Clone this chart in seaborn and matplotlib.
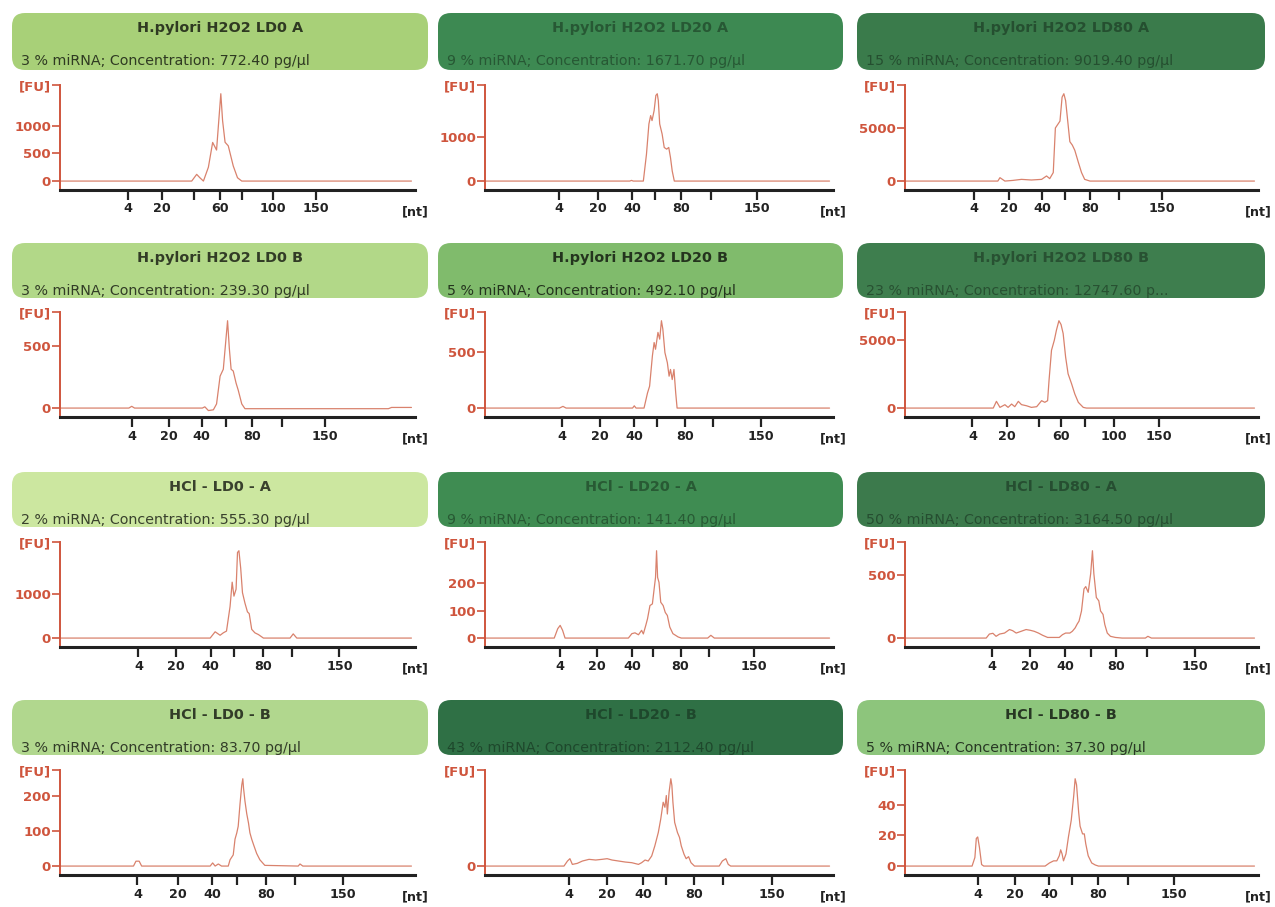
import matplotlib
matplotlib.use("Agg")
import numpy as np
import pandas as pd
import matplotlib.pyplot as plt
from matplotlib.patches import FancyBboxPatch
from matplotlib import colors as mcolors
import seaborn as sns

sns.set_theme(style="white")
plt.rcParams["font.family"] = ["DejaVu Sans"]

# ---- sample headers (row-major: H2O2 A, H2O2 B, HCl A, HCl B) ----
titles = [
    "H.pylori H2O2 LD0 A", "H.pylori H2O2 LD20 A", "H.pylori H2O2 LD80 A",
    "H.pylori H2O2 LD0 B", "H.pylori H2O2 LD20 B", "H.pylori H2O2 LD80 B",
    "HCl - LD0 - A", "HCl - LD20 - A", "HCl - LD80 - A",
    "HCl - LD0 - B", "HCl - LD20 - B", "HCl - LD80 - B",
]
subtitles = [
    "3 % miRNA; Concentration: 772.40 pg/µl",
    "9 % miRNA; Concentration: 1671.70 pg/µl",
    "15 % miRNA; Concentration: 9019.40 pg/µl",
    "3 % miRNA; Concentration: 239.30 pg/µl",
    "5 % miRNA; Concentration: 492.10 pg/µl",
    "23 % miRNA; Concentration: 12747.60 p...",
    "2 % miRNA; Concentration: 555.30 pg/µl",
    "9 % miRNA; Concentration: 141.40 pg/µl",
    "50 % miRNA; Concentration: 3164.50 pg/µl",
    "3 % miRNA; Concentration: 83.70 pg/µl",
    "43 % miRNA; Concentration: 2112.40 pg/µl",
    "5 % miRNA; Concentration: 37.30 pg/µl",
]
header_colors = [
    "#a8d078", "#3d8952", "#3a7b4b",
    "#b2d888", "#80bb6c", "#3e7e4e",
    "#cce7a0", "#3f8c52", "#3c7a4c",
    "#b1d78e", "#2f7045", "#8dc57c",
]

# ---- ladder ticks (relative migration position, 0-100) ----
ladder_pos = [
    [19.1, 28.8, 37.8, 45.1, 51.3, 60.1, 72.1],
    [21.3, 32.5, 42.3, 48.8, 56.3, 64.9, 78.2],
    [19.6, 29.4, 38.9, 45.3, 52.4, 60.6, 72.8],
    [20.2, 30.7, 39.9, 46.8, 54.2, 62.4, 74.6],
    [22.2, 33.0, 42.9, 49.5, 57.6, 65.4, 79.3],
    [19.1, 28.8, 37.9, 44.2, 51.1, 59.2, 71.9],
    [22.1, 32.7, 42.4, 49.0, 57.3, 65.4, 78.7],
    [21.6, 32.2, 42.2, 48.3, 56.2, 64.3, 77.3],
    [24.6, 35.5, 45.4, 52.6, 59.8, 68.5, 82.2],
    [21.8, 33.2, 42.9, 49.8, 58.0, 66.2, 79.8],
    [24.2, 35.1, 45.5, 52.1, 60.0, 68.5, 82.5],
    [20.6, 31.1, 40.9, 47.3, 54.8, 63.3, 76.3],
]
labels_a = ["4", "20", "", "60", "", "100", "150"]
labels_b = ["4", "20", "40", "", "80", "", "150"]
ladder_labels = [
    labels_a, labels_b, labels_b,
    labels_b, labels_b, labels_a,
    labels_b, labels_b, labels_b,
    labels_b, labels_b, labels_b,
]

# ---- fluorescence axis ticks ----
fu_ticks = [
    [0, 500, 1000], [0, 1000], [0, 5000],
    [0, 500], [0, 500], [0, 5000],
    [0, 1000], [0, 100, 200], [0, 500],
    [0, 100, 200], [0], [0, 20, 40],
]

# ---- electropherogram traces: migration position and fluorescence ----
x_h2o2_ld0_a = [0, 37.1, 38.5, 39.4, 40.4, 41.8, 43.0, 44.1, 45.3, 45.8, 46.5, 47.4, 48.8, 50.0, 51.2, 99.0]
fu_h2o2_ld0_a = [0, 0, 121, 60, 0, 250, 697, 560, 1576, 1090, 700, 636, 273, 60, 0, 0]

x_h2o2_ld20_a = [0, 41.6, 42.1, 42.6, 45.5, 46.4, 47.1, 47.6, 48.0, 48.6, 49.1, 49.5, 49.8, 50.2, 50.9,
                 51.5, 52.2, 52.8, 53.3, 53.8, 54.4, 99.0]
fu_h2o2_ld20_a = [0, 0, 15, 0, 0, 606, 1288, 1477, 1364, 1591, 1932, 1970, 1818, 1288, 1060,
                  758, 720, 758, 530, 227, 0, 0]

x_h2o2_ld80_a = [0, 26.3, 26.9, 28.3, 30.5, 33.0, 35.8, 38.7, 40.1, 41.0, 42.0, 42.6, 43.9, 44.5, 45.0,
                 45.5, 46.0, 46.7, 47.4, 48.1, 49.1, 50.0, 50.9, 52.4, 99.0]
fu_h2o2_ld80_a = [0, 0, 320, 0, 60, 160, 100, 160, 480, 230, 800, 5000, 5645, 7900, 8226,
                  7580, 5968, 3710, 3387, 2900, 1774, 806, 160, 0, 0]

x_h2o2_ld0_b = [0, 19.4, 20.2, 21.0, 40.1, 40.8, 41.8, 43.2, 44.1, 45.1, 46.0, 46.6, 47.2, 47.7, 48.2,
                48.8, 49.6, 50.2, 51.2, 52.1, 92.5, 93.4, 99.0]
fu_h2o2_ld0_b = [0, 0, 14, 0, 0, 10, -20, -14, 33, 256, 311, 505, 700, 478, 311,
                 297, 200, 144, 33, -5, -5, 5, 5]

x_h2o2_ld20_b = [0, 21.4, 22.4, 23.3, 42.4, 42.9, 43.4, 45.7, 46.7, 47.3, 48.1, 48.6, 49.0, 49.7, 50.2,
                 50.7, 51.1, 51.7, 52.4, 52.9, 53.3, 53.8, 54.3, 54.8, 55.2, 99.0]
fu_h2o2_ld20_b = [0, 0, 15, 0, 0, 20, 0, 0, 135, 195, 464, 584, 524, 674, 614,
                  778, 704, 494, 404, 284, 344, 254, 344, 135, 0, 0]

x_h2o2_ld80_b = [0, 25.0, 25.9, 26.9, 28.3, 29.2, 30.2, 31.1, 32.1, 33.0, 34.4, 35.8, 37.3, 38.7, 39.6,
                 40.4, 40.8, 41.5, 42.3, 42.9, 43.6, 44.2, 44.8, 45.5, 46.2, 47.2, 48.1, 49.1, 50.5,
                 51.4, 99.0]
fu_h2o2_ld80_b = [0, 0, 490, 50, 245, 50, 294, 100, 490, 250, 170, 50, 100, 539, 420,
                  539, 2010, 4216, 4950, 5686, 6373, 6100, 5441, 3725, 2500, 1765, 1029, 417, 49,
                  0, 0]

x_hcl_ld0_a = [0, 42.3, 43.7, 44.3, 45.1, 46.0, 46.9, 47.9, 48.5, 49.0, 49.6, 50.0, 50.4, 50.9, 51.4,
               52.1, 52.8, 53.3, 54.0, 54.9, 55.9, 57.3, 64.8, 65.7, 66.7, 99.0]
fu_hcl_ld0_a = [0, 0, 144, 110, 64, 120, 160, 720, 1280, 960, 1120, 1960, 2000, 1600, 1040,
                800, 600, 560, 200, 120, 80, 0, 0, 96, 0, 0]

x_hcl_ld20_a = [0, 19.9, 20.9, 21.6, 22.3, 23.0, 41.2, 42.2, 43.1, 44.1, 45.0, 45.5, 46.2, 46.7, 47.4,
                48.1, 48.6, 49.0, 49.3, 49.6, 50.0, 50.5, 51.2, 51.8, 52.4, 53.1, 54.0, 55.5, 56.4,
                64.0, 64.9, 65.9, 99.0]
fu_hcl_ld20_a = [0, 0, 34, 46, 28, 0, 0, 16, 19, 12, 28, 15, 46, 70, 118,
                 124, 178, 220, 317, 220, 202, 130, 118, 93, 82, 40, 16, 4, 0,
                 0, 10, 0, 0]

x_hcl_ld80_a = [0, 23.0, 23.9, 24.9, 25.8, 26.8, 28.2, 29.6, 30.5, 31.5, 32.9, 34.3, 35.5, 36.6, 37.8,
                39.0, 40.4, 43.7, 44.6, 45.5, 46.7, 47.4, 48.2, 48.8, 49.3, 50.0, 50.7, 51.2, 51.9,
                52.6, 53.1, 53.5, 54.2, 54.9, 55.4, 56.1, 56.6, 57.3, 58.2, 59.6, 61.5, 68.1, 68.8,
                69.8, 99.0]
fu_hcl_ld80_a = [0, 0, 32, 38, 14, 32, 40, 68, 59, 40, 54, 68, 62, 54, 40,
                 22, 5, 5, 27, 40, 40, 54, 81, 113, 135, 216, 392, 411, 365,
                 514, 697, 514, 324, 297, 216, 189, 108, 40, 14, 5, 0, 0, 14,
                 0, 0]

x_hcl_ld0_b = [0, 20.7, 21.4, 22.3, 23.0, 42.3, 43.0, 43.7, 44.6, 45.5, 47.4, 47.9, 48.8, 49.3, 49.8,
               50.2, 50.7, 51.2, 51.5, 51.7, 52.1, 52.6, 53.1, 53.5, 54.0, 54.6, 55.4, 56.3, 57.7,
               67.1, 67.6, 68.4, 99.0]
fu_hcl_ld0_b = [0, 0, 14, 14, 0, 0, 9, 0, 6, 0, 0, 18, 32, 77, 95,
                114, 177, 232, 250, 223, 186, 150, 123, 95, 77, 59, 36, 18, 2,
                0, 6, 0, 0]

x_hcl_ld20_b = [0, 22.7, 23.7, 24.4, 25.1, 26.5, 28.0, 29.9, 31.8, 33.6, 35.1, 36.5, 38.4, 40.3, 42.2,
                44.1, 45.0, 46.0, 46.9, 47.9, 48.8, 49.8, 50.5, 51.2, 51.7, 52.1, 52.4, 52.9, 53.4,
                53.7, 54.0, 54.5, 55.3, 55.9, 56.4, 57.2, 57.8, 58.5, 59.2, 60.2, 67.3, 68.2, 69.2,
                69.9, 70.6, 99.0]
fu_hcl_ld20_b = [0, 0, 15, 22, 5, 8, 15, 20, 18, 20, 22, 18, 15, 12, 10,
                 5, 10, 18, 15, 30, 60, 100, 140, 190, 175, 210, 155, 220, 260,
                 240, 190, 130, 100, 85, 60, 35, 22, 28, 10, 0, 0, 15, 22,
                 5, 0, 0]

x_hcl_ld80_b = [0, 19.0, 19.8, 20.2, 20.6, 21.1, 21.7, 22.3, 39.7, 40.9, 42.1, 43.0, 43.7, 44.1, 44.5,
                44.9, 45.6, 46.3, 47.1, 47.8, 48.2, 48.6, 49.2, 49.6, 50.3, 50.8, 51.2, 51.9, 52.9,
                53.9, 54.8, 99.0]
fu_hcl_ld80_b = [0, 0, 5.6, 18, 19, 12, 1, 0, 0, 2, 3.4, 3.4, 6.7, 10.6, 7.9,
                 3.4, 7.9, 19, 30, 46, 57, 53, 35, 26, 21, 21, 14.6, 6.7, 2,
                 0.7, 0, 0]

traces = [
    (x_h2o2_ld0_a, fu_h2o2_ld0_a), (x_h2o2_ld20_a, fu_h2o2_ld20_a), (x_h2o2_ld80_a, fu_h2o2_ld80_a),
    (x_h2o2_ld0_b, fu_h2o2_ld0_b), (x_h2o2_ld20_b, fu_h2o2_ld20_b), (x_h2o2_ld80_b, fu_h2o2_ld80_b),
    (x_hcl_ld0_a, fu_hcl_ld0_a), (x_hcl_ld20_a, fu_hcl_ld20_a), (x_hcl_ld80_a, fu_hcl_ld80_a),
    (x_hcl_ld0_b, fu_hcl_ld0_b), (x_hcl_ld20_b, fu_hcl_ld20_b), (x_hcl_ld80_b, fu_hcl_ld80_b),
]

# ---- layout (pixels) ----
W, H = 1275, 907
box_cols = [(12, 428), (438, 843), (857, 1265)]
box_rows = [(13, 70), (243, 298), (472, 527), (700, 755)]
ax_cols = [(60, 415), (485, 833), (905, 1258)]
ax_rows = [(85, 190), (312, 417), (542, 647), (770, 875)]

RED = "#cf553d"
TRACE = "#d9826d"
INK = "#222222"

fig = plt.figure(figsize=(W / 100, H / 100), dpi=100)
fig.patch.set_facecolor("white")

bg = fig.add_axes([0, 0, 1, 1], zorder=0)
bg.set_xlim(0, W)
bg.set_ylim(H, 0)
bg.axis("off")


def header_text_color(hex_color):
    rgb = np.array(mcolors.to_rgb(hex_color))
    lum = 0.299 * rgb[0] + 0.587 * rgb[1] + 0.114 * rgb[2]
    factor = 0.28 if lum > 0.6 else 0.64
    return tuple(rgb * factor)


for i in range(12):
    r, c = divmod(i, 3)
    bx0, bx1 = box_cols[c]
    by0, by1 = box_rows[r]
    box = FancyBboxPatch((bx0, by0), bx1 - bx0, by1 - by0,
                         boxstyle="round,pad=0,rounding_size=13",
                         facecolor=header_colors[i], edgecolor="none")
    bg.add_patch(box)
    tcol = header_text_color(header_colors[i])
    bg.text((bx0 + bx1) / 2, by0 + 15, titles[i], ha="center", va="center",
            fontsize=10.4, fontweight="bold", color=tcol)
    bg.text(bx0 + 9, by0 + 48, subtitles[i], ha="left", va="center",
            fontsize=10.3, color=tcol)

    # electropherogram panel
    ax0, ax1 = ax_cols[c]
    ay0, ay1 = ax_rows[r]
    ax = fig.add_axes([ax0 / W, 1 - ay1 / H, (ax1 - ax0) / W, (ay1 - ay0) / H], zorder=2)
    ax.patch.set_alpha(0)

    xs, ys = traces[i]
    df = pd.DataFrame({"position": xs, "fu": ys})
    sns.lineplot(data=df, x="position", y="fu", ax=ax, color=TRACE, linewidth=0.9,
                 estimator=None, sort=False, errorbar=None)
    ax.set_xlabel("")
    ax.set_ylabel("")

    top = 1.1 * max(ys)
    ax.set_ylim(-0.093 * top, top)
    ax.set_xlim(0, 100)

    ax.set_xticks(ladder_pos[i])
    ax.set_xticklabels(ladder_labels[i], fontsize=9.2, fontweight="bold", color=INK)
    yt = list(fu_ticks[i]) + [top]
    ax.set_yticks(yt)
    ax.set_yticklabels([str(v) for v in fu_ticks[i]] + ["[FU]"],
                       fontsize=9.5, fontweight="bold", color=RED)

    ax.tick_params(axis="x", direction="out", length=7, width=1.6, color=INK, pad=2,
                   bottom=True)
    ax.tick_params(axis="y", direction="out", length=5.5, width=1.2, color=RED, pad=1,
                   left=True)
    for side in ("top", "right"):
        ax.spines[side].set_visible(False)
    ax.spines["left"].set_color(RED)
    ax.spines["left"].set_linewidth(1.4)
    ax.spines["bottom"].set_color(INK)
    ax.spines["bottom"].set_linewidth(2.2)
    ax.grid(False)

    ax.annotate("[nt]", xy=(1.0, 0), xycoords="axes fraction",
                xytext=(0, -16), textcoords="offset points",
                ha="center", va="center", fontsize=9.2, fontweight="bold", color=INK)

fig.savefig("out.png", dpi=100, facecolor="white")
